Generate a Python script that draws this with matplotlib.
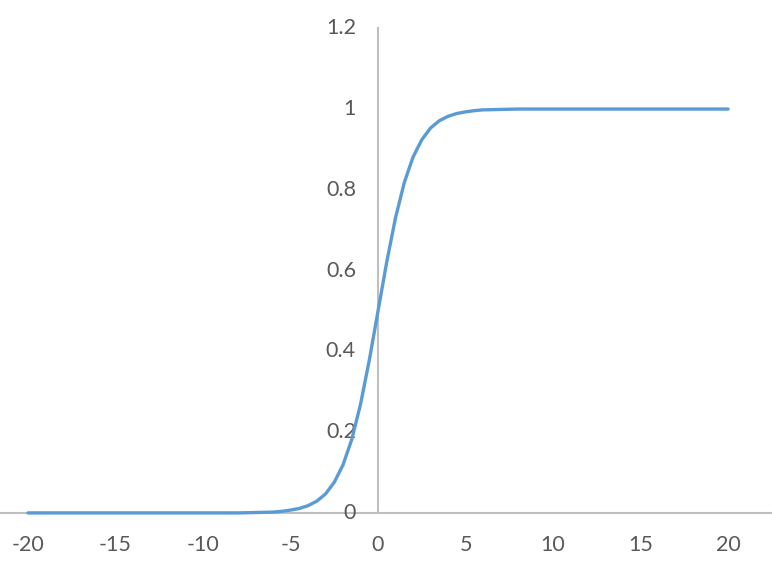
import matplotlib
matplotlib.use("Agg")
import matplotlib.pyplot as plt

# data (logistic-shaped curve)
x_vals = [-20, -19, -18, -17, -16, -15, -14, -13, -12, -11, -10, -9, -8, -7, -6,
          -5.5, -5, -4.5, -4, -3.5, -3, -2.5, -2, -1.5, -1, -0.5, 0,
          0.5, 1, 1.5, 2, 2.5, 3, 3.5, 4, 4.5, 5, 5.5, 6,
          7, 8, 9, 10, 11, 12, 13, 14, 15, 16, 17, 18, 19, 20]
y_vals = [0.000, 0.000, 0.000, 0.000, 0.000, 0.000, 0.000, 0.000, 0.000, 0.000, 0.000, 0.000, 0.000, 0.001, 0.002,
          0.004, 0.007, 0.011, 0.018, 0.029, 0.047, 0.076, 0.119, 0.182, 0.269, 0.378, 0.500,
          0.622, 0.731, 0.818, 0.881, 0.924, 0.953, 0.971, 0.982, 0.989, 0.993, 0.996, 0.998,
          0.999, 1.000, 1.000, 1.000, 1.000, 1.000, 1.000, 1.000, 1.000, 1.000, 1.000, 1.000, 1.000, 1.000]

x_ticks = [-20, -15, -10, -5, 0, 5, 10, 15, 20]
x_tick_labels = ["-20", "-15", "-10", "-5", "0", "5", "10", "15", "20"]
y_ticks = [0, 0.2, 0.4, 0.6, 0.8, 1.0, 1.2]
y_tick_labels = ["0", "0.2", "0.4", "0.6", "0.8", "1", "1.2"]

fig = plt.figure(figsize=(7.72, 5.63), dpi=100)
ax = fig.add_axes([0, 0, 1, 1])
ax.set_xlim(-21.6, 22.51)
ax.set_ylim(-0.124, 1.27)
ax.axis("off")

axis_color = "#bfbfbf"
text_color = "#595959"
font = "Lato"

ax.axhline(0, color=axis_color, lw=1.5, zorder=1)
ax.plot([0, 0], [0, 1.2], color=axis_color, lw=1.5, zorder=1)

ax.plot(x_vals, y_vals, color="#5B9BD5", lw=2.4, zorder=3,
        solid_capstyle="round", solid_joinstyle="round")

for t, lab in zip(x_ticks, x_tick_labels):
    ax.text(t, -0.079, lab, ha="center", va="center", color=text_color,
            fontsize=15.5, family=font)
for t, lab in zip(y_ticks, y_tick_labels):
    ax.text(-1.26, t, lab, ha="right", va="center", color=text_color,
            fontsize=15.5, family=font, zorder=2)

fig.savefig("out.png", dpi=100)
